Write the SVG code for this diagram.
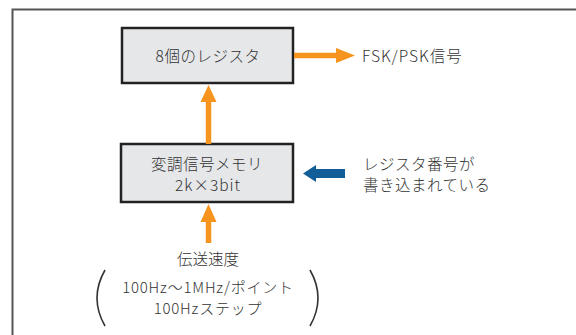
<svg xmlns="http://www.w3.org/2000/svg" width="576" height="335" viewBox="0 0 576 335">
<defs>
<style>
text{font-family:"Noto Sans CJK JP","Noto Sans",sans-serif;font-size:15.5px;font-weight:300;fill:#333}
.c{text-anchor:middle}
.ls{letter-spacing:1px}
.sm{font-size:15px;letter-spacing:0.8px}
.box{fill:#e6e7e9;stroke:#222;stroke-width:2.5}
.or{stroke:#f7941d;stroke-width:5.5;fill:none}
.orh{fill:#f7941d}
.paren{fill:none;stroke:#333;stroke-width:1.6}
</style>
</defs>
<rect width="576" height="335" fill="#fff"/>
<path d="M12.5,340 V9.5 H580" fill="none" stroke="#555" stroke-width="2"/>
<g id="registers">
<rect class="box" x="122" y="28" width="171" height="55"/>
<text class="c" x="208" y="62" style="letter-spacing:0.5px">8個のレジスタ</text>
</g>
<g id="memory">
<rect class="box" x="121" y="144" width="172" height="58"/>
<text class="c" x="207" y="170" style="letter-spacing:0.5px">変調信号メモリ</text>
<text class="c ls" x="208" y="191">2k×3bit</text>
</g>
<g id="output">
<text class="ls" x="362" y="62">FSK/PSK信号</text>
</g>
<g id="regnum">
<text x="363" y="170" style="letter-spacing:0.5px">レジスタ番号が</text>
<text x="363" y="191" style="letter-spacing:0.5px">書き込まれている</text>
</g>
<g id="speed">
<text class="c" x="208" y="265">伝送速度</text>
<text class="c sm" x="208" y="293">100Hz〜1MHz/ポイント</text>
<text class="c sm" x="208" y="313.5">100Hzステップ</text>
<path class="paren" d="M105,270 Q89,298 105,326"/>
<path class="paren" d="M310,270 Q326,298 310,326"/>
</g>
<g id="connectors">
<line class="or" x1="294" y1="55.5" x2="337" y2="55.5"/>
<polygon class="orh" points="336,48 355,55.5 336,63"/>
<line class="or" x1="208.5" y1="144" x2="208.5" y2="100"/>
<polygon class="orh" points="200.5,102 208.5,85 216.5,102"/>
<line class="or" x1="208.5" y1="243" x2="208.5" y2="220"/>
<polygon class="orh" points="200.5,222 208.5,204 216.5,222"/>
<rect x="314" y="169" width="31" height="9" fill="#115e99"/>
<polygon points="316,165 303,173.5 316,182" fill="#115e99"/>
</g>
</svg>
